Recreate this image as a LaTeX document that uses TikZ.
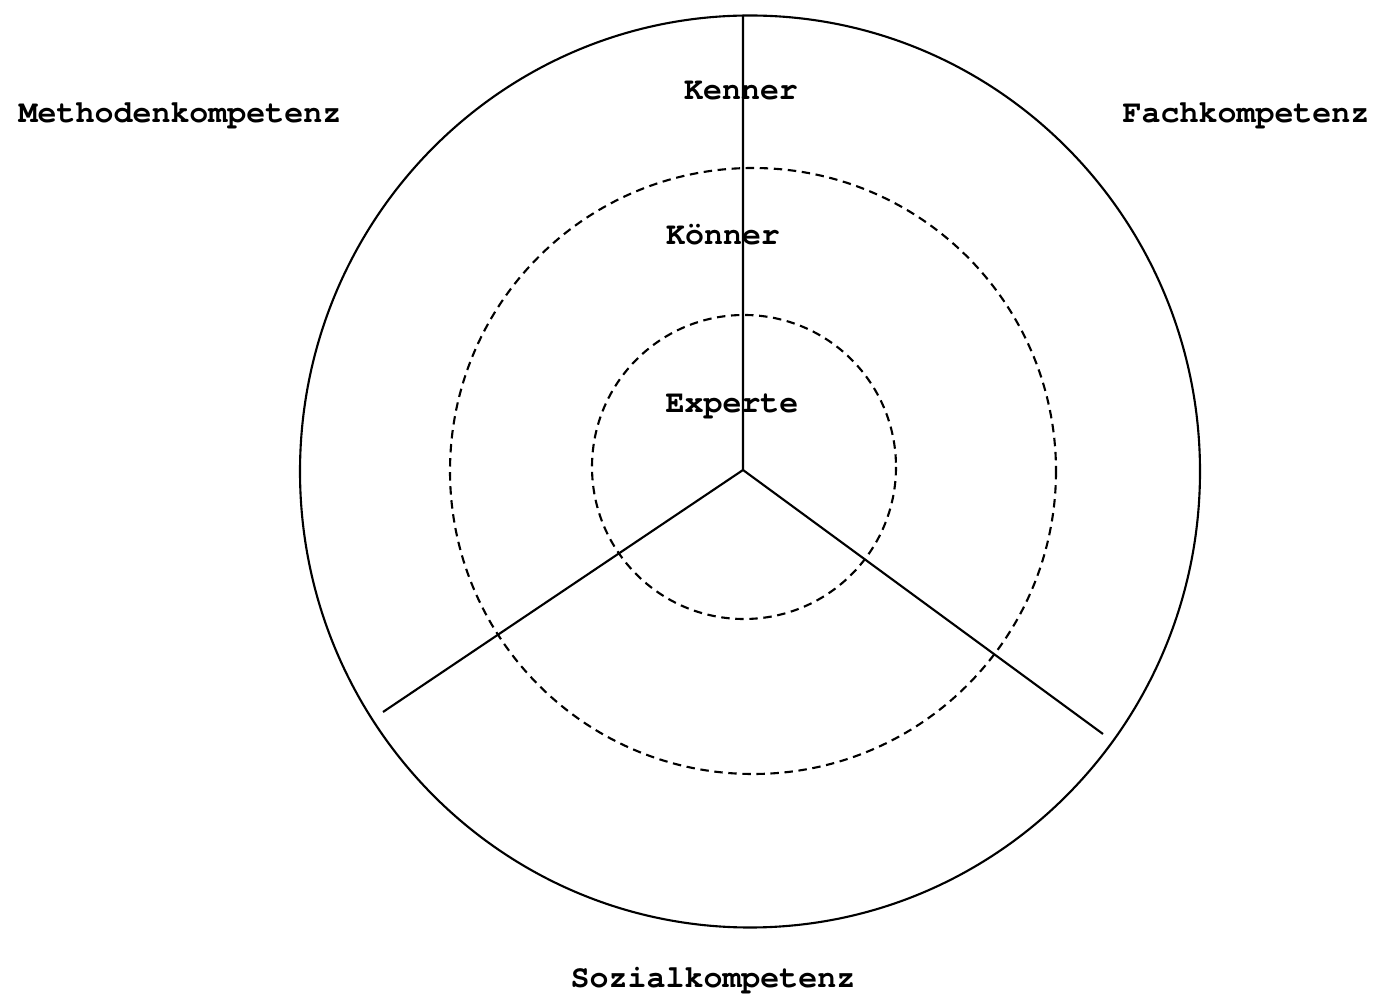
\documentclass[tikz,border=0pt]{standalone}
\usepackage{fontspec}
\setmonofont{TeX Gyre Cursor}
\begin{document}
\begin{tikzpicture}[x=0.01cm,y=-0.01cm,
    Ring/.style={line width=0.6pt,dash pattern=on 2.4pt off 1.6pt},
    Label/.style={font=\fontsize{9}{11}\selectfont\ttfamily\bfseries,anchor=base,inner sep=0pt}]
    \useasboundingbox (0,0) rectangle (1376,995);
    \coordinate (Origin) at (743,470);
    % circles
    \draw[line width=0.6pt] (750,471.5) ellipse (450 and 456);
    \draw[Ring] (753,471) circle (303);
    \draw[Ring] (744,467) circle (152);
    % sectors
    \coordinate (Top) at (743,15);
    \coordinate (LowLeft) at (383,712);
    \coordinate (LowRight) at (1103,734);
    \draw[line width=0.6pt] (Top) -- (Origin) -- (LowLeft);
    \draw[line width=0.6pt] (Origin) -- (LowRight);
    % levels
    \node[Label] (kenner) at (741,100) {Kenner};
    \node[Label] (koenner) at (723,245) {Könner};
    \node[Label] (experte) at (732,413) {Experte};
    % areas
    \node[Label] (methoden) at (180,123) {Methodenkompetenz};
    \node[Label] (fach) at (1246,123) {Fachkompetenz};
    \node[Label] (sozial) at (713,987) {Sozialkompetenz};
\end{tikzpicture}
\end{document}
